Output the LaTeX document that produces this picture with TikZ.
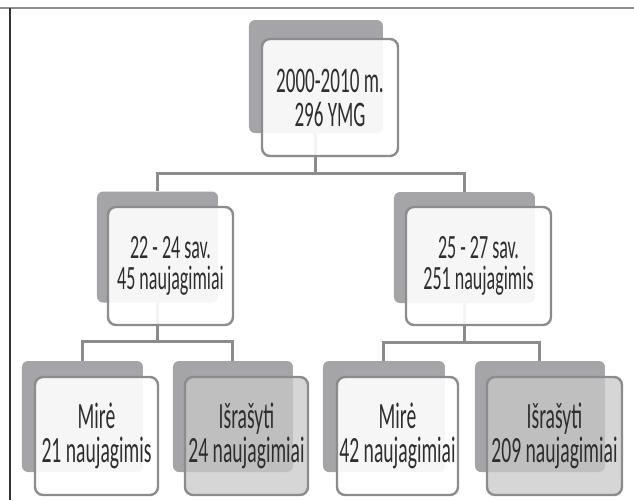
\documentclass[tikz,border=0pt]{standalone}
\usepackage{fontspec}
\setmainfont{Carlito}[FakeStretch=0.53]
\usetikzlibrary{backgrounds}
\definecolor{backgray}{HTML}{A5A5A7}
\definecolor{linegray}{HTML}{8C8C8C}
\definecolor{leafgray}{HTML}{C8C8C8}
\definecolor{textgray}{HTML}{2E2E2E}

\begin{document}
\begin{tikzpicture}[x=0.5pt, y=-0.5pt,
	back/.style={fill=backgray, rounded corners=3pt, minimum height=55.5pt, inner sep=0pt},
	front/.style={draw=linegray, line width=1.2pt, fill=white, fill opacity=0.9, text opacity=1,
		text=textgray, rounded corners=4pt, minimum height=59pt, inner sep=0pt, align=center,
		font=\fontsize{18}{17}\selectfont},
	leaf/.style={front, fill=leafgray, fill opacity=0.75},
	link/.style={draw=linegray, line width=1.5pt}]
	\useasboundingbox (0,0) rectangle (634,500);

	% shadows behind the boxes
	\node[back, minimum width=67pt, minimum height=56.5pt] (topb) at (316,76.5) {};
	\node[back, minimum width=60.5pt] (leftb) at (157.5,247) {};
	\node[back, minimum width=70.5pt] (rightb) at (464.5,247.5) {};
	\node[back, minimum width=60.5pt] (dead1b) at (82.5,416.5) {};
	\node[back, minimum width=60pt] (out1b) at (233,416.5) {};
	\node[back, minimum width=61pt] (dead2b) at (384,416.5) {};
	\node[back, minimum width=65pt] (out2b) at (540,416.5) {};

	% boxes with the texts
	\node[front, minimum width=68pt, minimum height=58.5pt] (top) at (330,97.5) {2000-2010 m.\\296 YMG};
	\node[front, minimum width=62.5pt, font=\fontsize{17}{15.5}\selectfont] (left) at (170.5,266) {22 - 24 sav.\\45 naujagimiai};
	\node[front, minimum width=72.5pt, font=\fontsize{17}{15.5}\selectfont] (right) at (478.5,266) {25 - 27 sav.\\251 naujagimis};
	\node[front, minimum width=61.5pt, font=\fontsize{18.5}{17}\selectfont] (dead1) at (96.5,436) {Mirė\\21 naujagimis};
	\node[leaf, minimum width=61.5pt, font=\fontsize{18.5}{17}\selectfont] (out1) at (246.5,436) {Išrašyti\\24 naujagimiai};
	\node[front, minimum width=60.5pt, font=\fontsize{18.5}{17}\selectfont] (dead2) at (397.5,436) {Mirė\\42 naujagimiai};
	\node[leaf, minimum width=67.5pt, font=\fontsize{18.5}{17}\selectfont] (out2) at (554.5,436) {Išrašyti\\209 naujagimiai};

	\begin{scope}[on background layer]
		% frame
		\draw[linegray, line width=1pt] (0,8) -- (634,8);
		\draw[black!80, line width=0.8pt] (10,8) -- (10,500);
		% links
		\draw[link] (topb.south) -- ++(0,40) -| (leftb.north);
		\draw[link] (topb.south) -- ++(0,40) -| (rightb.north);
		\draw[link] (leftb.south) -- ++(0,39) -| (dead1b.north);
		\draw[link] (leftb.south) -- ++(0,39) -| (out1b.north);
		\draw[link] (rightb.south) -- ++(0,39) -| (dead2b.north);
		\draw[link] (rightb.south) -- ++(0,39) -| (out2b.north);
	\end{scope}
\end{tikzpicture}
\end{document}
